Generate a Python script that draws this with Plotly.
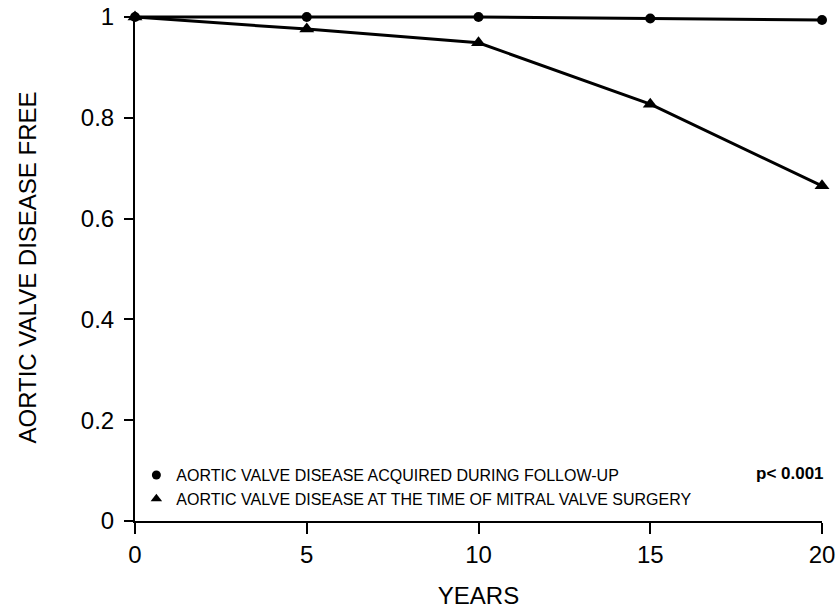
import plotly.graph_objects as go

years = [0, 5, 10, 15, 20]
acquired = [1.0, 1.0, 1.0, 0.997, 0.994]
at_surgery = [1.0, 0.976, 0.949, 0.827, 0.665]

name_acq = "AORTIC VALVE DISEASE ACQUIRED DURING FOLLOW-UP"
name_surg = "AORTIC VALVE DISEASE AT THE TIME OF MITRAL VALVE SURGERY"

x_ticks = [0, 5, 10, 15, 20]
y_ticks = [0, 0.2, 0.4, 0.6, 0.8, 1]
y_ticktext = ["0", "0.2", "0.4", "0.6", "0.8", "1"]

FONT = "Liberation Sans, Arial, sans-serif"

fig = go.Figure()
fig.add_trace(go.Scatter(
    x=years, y=acquired, mode="lines+markers", name=name_acq,
    line=dict(color="black", width=3),
    marker=dict(symbol="circle", size=10, color="black"),
    cliponaxis=False, showlegend=False,
))
fig.add_trace(go.Scatter(
    x=years, y=at_surgery, mode="lines+markers", name=name_surg,
    line=dict(color="black", width=3),
    marker=dict(symbol="triangle-up", size=13, color="black"),
    cliponaxis=False, showlegend=False,
))
# legend entries (marker only, like the reference key)
fig.add_trace(go.Scatter(
    x=[None], y=[None], mode="markers", name=name_acq,
    marker=dict(symbol="circle", size=9, color="black"),
))
fig.add_trace(go.Scatter(
    x=[None], y=[None], mode="markers", name=name_surg,
    marker=dict(symbol="triangle-up", size=10, color="black"),
))

fig.update_layout(
    width=836, height=609,
    margin=dict(l=135, r=14, t=14, b=88, pad=0, autoexpand=False),
    paper_bgcolor="white", plot_bgcolor="white",
    font=dict(family=FONT, color="black"),
    showlegend=True,
    hovermode=False,
    legend=dict(
        x=0.002, y=0.124, xanchor="left", yanchor="top",
        bgcolor="rgba(0,0,0,0)", borderwidth=0,
        font=dict(size=16, family=FONT, color="black"),
        itemwidth=30, tracegroupgap=0,
    ),
    xaxis=dict(
        range=[0, 20], tickvals=x_ticks, showgrid=False, zeroline=False,
        showline=True, linecolor="black", linewidth=2, automargin=False,
        ticks="outside", ticklen=11, tickwidth=2, tickcolor="black",
        tickfont=dict(size=24, family=FONT, color="black"),
        ticklabelstandoff=0,
        title=dict(text="YEARS", font=dict(size=24, family=FONT, color="black"), standoff=26),
    ),
    yaxis=dict(
        range=[0, 1.006], tickvals=y_ticks, ticktext=y_ticktext, showgrid=False, zeroline=False,
        showline=True, linecolor="black", linewidth=2, automargin=False,
        ticks="outside", ticklen=9, tickwidth=2, tickcolor="black",
        tickfont=dict(size=24, family=FONT, color="black"),
        ticklabelstandoff=5,
        title=dict(text="AORTIC VALVE DISEASE FREE", font=dict(size=24, family=FONT, color="black"), standoff=37),
    ),
    annotations=[dict(
        text="<b>p< 0.001</b>", xref="paper", yref="paper", x=1.0, y=0.094,
        xanchor="right", yanchor="middle", showarrow=False, xshift=4,
        font=dict(size=17, family=FONT, color="black"),
    )],
)

fig.write_html(
    "out.html",
    config={"displayModeBar": False},
    post_script="document.body.style.margin='0';document.body.style.padding='0';",
)
